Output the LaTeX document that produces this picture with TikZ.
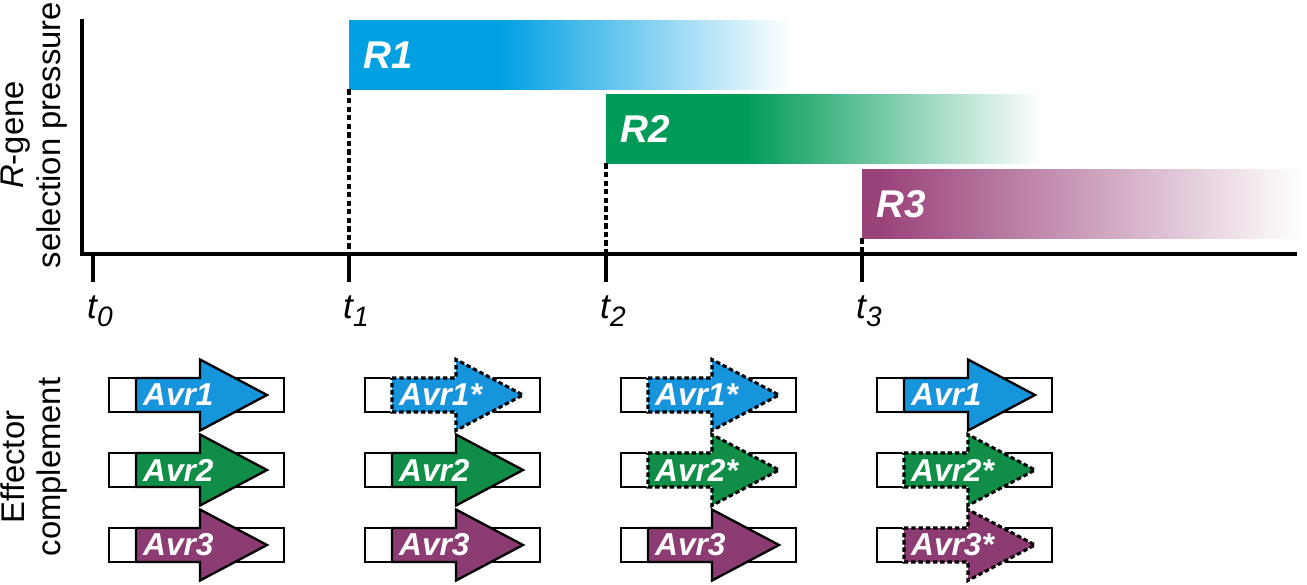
\documentclass[tikz,border=0pt]{standalone}
\usepackage{fontspec}
\setmainfont{Liberation Sans}
\usetikzlibrary{positioning}

\definecolor{rblue}{RGB}{0,160,227}
\definecolor{rgreen}{RGB}{0,155,88}
\definecolor{rpurple}{RGB}{154,66,122}
\definecolor{avrblue}{RGB}{22,148,220}
\definecolor{avrgreen}{RGB}{16,142,72}
\definecolor{avrpurple}{RGB}{140,60,115}

\pgfdeclarehorizontalshading{fadeRone}{100bp}{color(0bp)=(rblue); color(42bp)=(rblue); color(75bp)=(white); color(100bp)=(white)}
\pgfdeclarehorizontalshading{fadeRtwo}{100bp}{color(0bp)=(rgreen); color(41bp)=(rgreen); color(75bp)=(white); color(100bp)=(white)}
\pgfdeclarehorizontalshading{fadeRthree}{100bp}{color(0bp)=(rpurple); color(27bp)=(rpurple); color(75bp)=(white); color(100bp)=(white)}

\tikzset{
  axisline/.style={line width=2.7pt},
  dropline/.style={line width=3pt, dash pattern=on 4.5pt off 2.8pt},
  rbar/.style={shade, inner sep=0pt, anchor=north west, minimum height=69*0.03cm},
  rlabel/.style={text=white, inner sep=0pt, font=\fontsize{33}{33}\selectfont\bfseries\itshape},
  tlabel/.style={inner sep=0pt, anchor=base west, font=\fontsize{30}{30}\selectfont\itshape},
  sidelabel/.style={rotate=90, align=center, inner sep=0pt, font=\fontsize{28}{31.5}\selectfont},
  genebox/.style={draw, fill=white, line width=2.2pt},
  intact/.style={draw=black, line width=2pt},
  mutant/.style={draw=black, line width=2.6pt, dash pattern=on 3.8pt off 2.4pt,
    preaction={draw=white, line width=2.2pt}},
  avrlabel/.style={text=white, inner sep=0pt, anchor=west, font=\fontsize{27}{27}\selectfont\bfseries\itshape}
}

\begin{document}
\begin{tikzpicture}[x=0.03cm, y=-0.03cm]
\useasboundingbox (0,0) rectangle (1307,585);

\node[sidelabel] (pressure) at (34,135) {\textit{R}-gene\\selection pressure};
\node[sidelabel] (effectors) at (34,467) {Effector\\complement};

\coordinate (ytop) at (82,19);
\coordinate (origin) at (82,254);
\coordinate (xend) at (1297,254);
\draw[axisline] (ytop) -- (origin) -- (xend);
\draw[axisline] (80,254) -- (origin);

\foreach \i/\x in {0/93, 1/349, 2/606, 3/862} {
  \coordinate (tick\i) at (\x,254);
  \coordinate (tickend\i) at (\x,282);
  \draw[axisline] (tick\i) -- (tickend\i);
  \node[tlabel] (t\i) at (\x-6,318) {t\raisebox{-7.5pt}{\fontsize{24}{24}\selectfont\i}};
}

\node[rbar, shading=fadeRone, minimum width=441*0.03cm] (r1) at (349,20) {};
\node[rbar, shading=fadeRtwo, minimum width=436*0.03cm] (r2) at (606,94) {};
\node[rbar, shading=fadeRthree, minimum width=440*0.03cm] (r3) at (862,169) {};
\node[rlabel, right=0.42cm of r1.west] (r1-name) {R1};
\node[rlabel, right=0.42cm of r2.west] (r2-name) {R2};
\node[rlabel, right=0.42cm of r3.west] (r3-name) {R3};

\draw[dropline] (r1.south west) -- (tick1);
\draw[dropline] (r2.south west) -- (tick2);
\draw[dropline] (r3.south west) -- (tick3);

\foreach \col/\row/\clr/\txt/\sty in {
  0/0/avrblue/Avr1/intact, 0/1/avrgreen/Avr2/intact, 0/2/avrpurple/Avr3/intact,
  1/0/avrblue/Avr1*/mutant, 1/1/avrgreen/Avr2/intact, 1/2/avrpurple/Avr3/intact,
  2/0/avrblue/Avr1*/mutant, 2/1/avrgreen/Avr2*/mutant, 2/2/avrpurple/Avr3/intact,
  3/0/avrblue/Avr1/intact, 3/1/avrgreen/Avr2*/mutant, 3/2/avrpurple/Avr3*/mutant} {
  \pgfmathsetmacro\gx{109+256*\col}
  \pgfmathsetmacro\gy{395+75*\row}
  \draw[genebox] (\gx,\gy-17) rectangle (\gx+175,\gy+17);
  \path[fill=\clr, \sty] (\gx+27,\gy-17) -- (\gx+91,\gy-17) -- (\gx+91,\gy-35.5)
    -- (\gx+158,\gy) -- (\gx+91,\gy+35.5) -- (\gx+91,\gy+17) -- (\gx+27,\gy+17) -- cycle;
  \node[avrlabel] (gene-\col-\row) at (\gx+34,\gy) {\txt};
}
\end{tikzpicture}
\end{document}
